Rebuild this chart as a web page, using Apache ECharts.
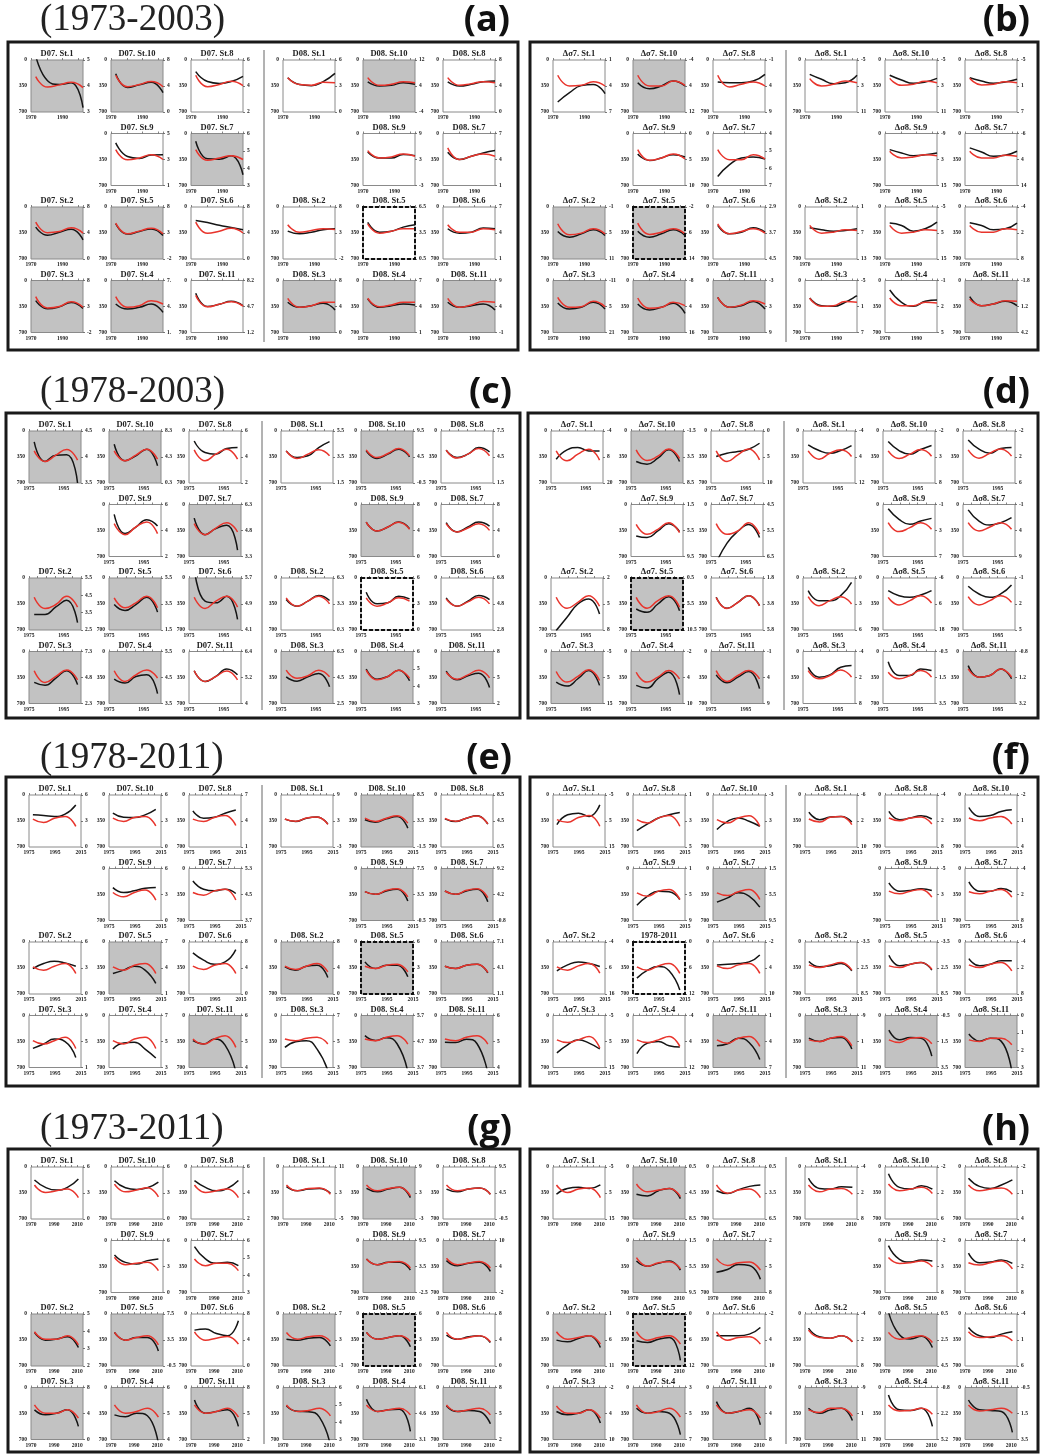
<!DOCTYPE html>
<html><head><meta charset="utf-8">
<script src="https://cdn.jsdelivr.net/npm/echarts@6/dist/echarts.min.js"></script>
<style>html,body{margin:0;padding:0;background:#fff}#c{width:1041px;height:1455px}</style>
</head><body><div id="c"></div><script>
// ---------- DATA ----------
// curve sample years per period (5 samples from start to end of the fitted curve)
const yrs_7303 = [1973, 1980.5, 1988, 1995.5, 2003];
const yrs_7803 = [1978, 1984.25, 1990.5, 1996.75, 2003];
const yrs_7811 = [1978, 1986.25, 1994.5, 2002.75, 2011];
const yrs_7311 = [1973, 1982.5, 1992, 2001.5, 2011];
const xt_7303 = [1970, 1990];
const xt_7803 = [1975, 1995];
const xt_7811 = [1975, 1995, 2015];
const xt_7311 = [1970, 1990, 2010];
const leftTicks = [0, 350, 700];
const periods = ['(1973-2003)', '(1978-2003)', '(1978-2011)', '(1973-2011)'];
const letters = ['(a)', '(b)', '(c)', '(d)', '(e)', '(f)', '(g)', '(h)'];
// station order in each half (St.1, St.10, St.8 / St.9, St.7 / St.2, St.5, St.6 / St.3, St.4, St.11)
const stations = ['1', '10', '8', '9', '7', '2', '5', '6', '3', '4', '11'];
const stations_f = ['1', '8', '10', '9', '7', '2', '5', '6', '3', '4', '11'];
const f_special = '1978-2011';
// values on the left (inverted 0-700) scale; first 11 = left half, next 11 = right half
const a_black = [[-60,280,330,305,642],[184,370,335,300,440],[157,290,315,290,220],[126,310,335,290,285],[104,340,345,300,555],[271,380,340,300,442],[226,365,330,295,385],[181,210,245,275,307],[271,380,355,295,375],[316,384,361,316,429],[171,350,320,280,340],
 [238,330,345,290,180],[296,350,341,305,327],[296,350,327,292,283],[248,330,330,283,298],[253,350,307,262,230],[325,361,339,307,293],[208,339,325,271,239],[293,352,339,284,293],[293,361,339,307,397],[248,361,339,316,329],[293,361,339,316,397]];
const a_red = [[224,365,335,300,372],[206,360,330,290,360],[206,360,330,285,345],[217,355,330,285,350],[217,360,330,300,350],[203,345,330,280,352],[217,360,325,285,360],[203,355,325,285,350],[217,370,350,285,360],[217,361,339,271,316],[200,355,320,285,345],
 [238,330,340,300,305],[238,341,327,292,305],[238,341,319,292,305],[230,330,316,275,307],[194,350,307,275,307],[239,339,316,293,303],[226,352,325,293,293],[239,339,339,293,307],[239,361,339,293,293],[239,352,329,293,293],[239,361,329,284,293]];
const a_right = [['5','4','3'],['8','4','0'],['6','4','2'],['5','3','1'],['6','5','4','3'],['8','4','0'],['8','3','-2'],['8','4','0'],['8','3','-2'],['7.','4.','1.'],['8.2','4.7','1.2'],
 ['6','3','0'],['12','4','-4'],['8','4','0'],['9','3','-3'],['7','4','1'],['8','3','-2'],['6.5','3.5','0.5'],['7','4','1'],['8','4','0'],['7','4','1'],['9','4','-1']];
const a_gray = [1,1,0,0,1,1,1,0,1,1,0, 0,1,0,0,0,0,0,0,1,1,1];

const b_black = [[565,440,345,330,453],[305,386,350,283,350],[296,305,305,283,193],[275,365,330,285,316],[578,420,330,316,343],[330,406,361,307,384],[325,406,361,307,384],[248,361,339,280,339],[302,384,361,293,384],[316,397,361,307,442],[226,361,339,284,384],
 [193,260,319,305,206],[206,269,314,296,247],[238,283,314,296,260],[217,262,298,285,262],[194,248,307,293,239],[280,307,325,316,293],[217,248,325,293,203],[212,248,307,293,217],[235,339,348,293,203],[126,293,348,280,262],[217,339,316,280,339]];
const b_red = [[206,350,341,292,350],[206,350,350,283,341],[206,363,327,296,350],[217,361,330,275,343],[217,352,352,285,343],[226,375,352,293,361],[217,370,339,293,361],[226,361,330,293,352],[226,361,352,280,352],[235,375,361,293,339],[226,361,330,271,316],
 [251,350,327,283,305],[247,341,327,287,305],[247,337,327,292,305],[239,330,316,285,298],[239,330,330,293,307],[248,352,339,307,316],[248,352,339,307,316],[248,339,339,293,307],[239,348,339,284,293],[235,339,339,293,302],[248,339,316,271,280]];
const b_right = [['1','4','7'],['-4','4','12'],['-1','4','9'],['0','5','10'],['4','5','6','7'],['-1','5','11'],['-2','6','14'],['2.9','3.7','4.5'],['-11','5','21'],['-8','4','16'],['-3','3','9'],
 ['-5','3','11'],['-5','3','11'],['-5','1','7'],['-9','3','15'],['-6','4','14'],['1','7','13'],['-5','5','15'],['-4','2','8'],['-5','1','7'],['-1','2','5'],['-1.8','1.2','4.2']];
const b_gray = [0,1,0,0,0,1,1,0,1,1,1, 0,0,0,0,0,0,0,0,0,0,1];

const c_black = [[147,410,325,320,700],[178,401,334,245,468],[134,290,312,236,223],[134,392,303,205,290],[183,406,325,281,615],[490,490,390,300,602],[357,437,357,259,459],[-150,312,334,245,557],[416,455,357,259,446],[372,425,336,314,568],[259,403,336,235,314],
 [267,357,334,223,143],[267,370,312,245,348],[258,357,312,223,281],[236,357,303,236,325],[245,370,303,236,290],[290,379,312,236,303],[192,348,334,245,281],[267,379,312,236,290],[341,399,341,296,474],[238,372,336,251,394],[263,381,327,292,485]];
const c_red = [[267,410,325,250,392],[267,401,325,245,379],[254,401,312,245,379],[258,406,303,236,392],[258,406,317,245,370],[259,410,357,245,392],[267,401,334,245,401],[259,410,312,245,392],[259,416,336,249,381],[259,403,314,249,359],[259,403,336,263,381],
 [267,370,312,254,334],[254,357,303,236,334],[258,365,312,236,334],[236,357,303,240,335],[258,370,317,258,348],[267,379,312,245,348],[267,379,334,267,312],[281,379,321,259,348],[251,359,327,251,341],[251,381,336,251,359],[280,372,314,251,354]];
const c_right = [['4.5','4','3.5'],['8.3','4.3','0.3'],['6','4','2'],['6','4','2'],['6.3','4.8','3.3'],['5.5','4.5','3.5','2.5'],['5.5','3.5','1.5'],['5.7','4.9','4.1'],['7.3','4.8','2.3'],['5.5','4.5','3.5'],['6.4','5.2','4'],
 ['5.5','3.5','1.5'],['9.5','4.5','-0.5'],['7.5','4.5','1.5'],['8','4','0'],['8','4','0'],['6.3','3.3','0.3'],['6','3','0'],['6.8','4.8','2.8'],['6.5','4.5','2.5'],['6','5','4','3'],['8','5','2']];
const c_gray = [1,1,0,0,1,1,1,1,1,1,0, 0,1,0,1,0,0,0,0,1,1,1];

const d_black = [[381,254,223,268,268],[410,446,366,254,410],[343,299,277,245,165],[423,445,356,258,365],[790,520,360,270,445],[708,529,350,283,485],[417,462,350,251,440],[260,408,328,238,372],[412,465,367,257,456],[456,492,367,279,580],[314,421,345,270,500],
 [187,263,299,263,196],[143,263,312,250,196],[121,245,299,236,223],[58,200,267,223,187],[72,223,276,245,178],[170,305,305,238,58],[170,238,260,229,170],[112,215,260,215,94],[213,345,314,213,190],[137,323,323,235,257],[190,345,323,235,367]];
const d_red = [[268,401,312,245,392],[254,397,339,241,370],[268,410,321,241,388],[267,401,334,245,379],[258,401,356,245,401],[260,408,328,238,381],[260,408,305,238,395],[262,410,330,240,375],[270,412,336,244,390],[279,412,345,257,368],[257,403,323,257,368],
 [268,379,299,254,343],[268,370,312,250,339],[254,366,299,241,339],[245,365,312,245,334],[245,356,303,245,334],[251,372,305,251,350],[260,363,305,238,337],[251,363,305,238,328],[257,367,323,248,345],[279,367,323,257,345],[235,345,323,235,345]];
const d_right = [['-4','8','20'],['-1.5','3.5','8.5'],['0','5','10'],['1.5','5.5','9.5'],['4.5','5.5','6.5'],['2','5','8'],['0.5','5.5','10.5'],['1.8','3.8','5.8'],['-5','5','15'],['-2','4','10'],['-1','4','9'],
 ['-4','4','12'],['-2','3','8'],['-2','2','6'],['-1','3','7'],['-1','4','9'],['0','3','6'],['-6','6','18'],['-1','2','5'],['-4','2','8'],['-0.5','1.5','3.5'],['-0.8','1.2','3.2']];
const d_gray = [0,1,0,0,0,0,1,0,1,1,1, 0,0,0,0,0,0,0,0,0,0,1];

const e_black = [[267,276,290,258,134],[245,299,303,267,192],[214,312,299,245,201],[257,323,301,266,257],[168,279,301,279,337],[357,290,259,281,326],[424,379,326,379,557],[147,245,299,268,103],[443,384,316,352,564],[452,370,361,452,573],[339,384,316,400,760],
 [325,357,312,295,392],[334,366,321,290,446],[321,357,312,281,392],[312,348,303,281,437],[303,348,303,281,446],[335,379,326,312,477],[268,357,312,312,468],[326,357,312,299,415],[429,352,339,452,740],[271,335,300,380,760],[361,365,320,380,780]];
const e_red = [[325,370,312,290,423],[312,357,303,290,415],[325,357,303,276,410],[323,381,323,288,425],[323,359,301,279,425],[335,379,326,290,424],[335,379,312,290,424],[326,370,312,290,424],[339,384,339,293,443],[339,384,316,293,443],[316,384,316,271,429],
 [323,355,310,295,395],[312,357,312,281,379],[315,355,312,283,390],[312,348,294,272,383],[303,348,294,272,392],[326,370,326,290,401],[326,357,312,299,401],[326,357,312,299,410],[316,339,307,293,384],[316,339,293,271,384],[316,339,293,271,384]];
const e_right = [['6','3','0'],['6','3','0'],['7','4','1'],['6','3','0'],['5.3','4.5','3.7'],['6','3','0'],['7','4','1'],['8','4','0'],['9','5','1'],['7','5','3'],['6','5','4'],
 ['9','3','-3'],['8.5','3.5','-1.5'],['8.5','4.5','0.5'],['7.5','3.5','-0.5'],['9.2','4.2','-0.8'],['8','4','0'],['6','3','0'],['7.1','4.1','1.1'],['7','5','3'],['5.7','4.7','3.7'],['6','5','4']];
const e_gray = [0,0,0,0,0,0,1,0,0,0,1, 0,1,0,1,1,1,1,1,0,1,1];

const f_black = [[399,266,244,288,133],[479,390,310,266,235],[465,354,310,354,421],[494,372,305,314,417],[453,395,328,372,521],[388,308,268,290,330],[486,379,330,388,647],[308,299,290,268,174],[503,394,328,372,451],[512,372,350,407,424],[407,381,306,363,591],
 [230,332,297,288,363],[222,332,310,279,323],[168,288,275,222,199],[193,305,296,274,296],[179,305,305,269,314],[263,334,321,290,388],[178,321,299,276,379],[223,321,299,254,254],[306,350,306,297,451],[197,328,297,306,547],[249,345,306,345,760]];
const f_red = [[332,368,302,275,421],[332,377,310,275,421],[332,377,310,279,421],[328,372,305,283,417],[328,363,314,283,417],[334,379,321,290,419],[334,379,321,290,423],[321,357,308,290,423],[328,363,328,284,438],[328,363,328,284,416],[328,372,306,284,416],
 [323,363,301,288,399],[310,346,310,297,390],[310,346,310,288,390],[305,341,305,283,386],[314,341,305,283,386],[308,343,308,276,379],[321,343,299,276,366],[308,343,299,276,388],[328,350,306,284,407],[328,363,306,297,381],[328,350,306,306,394]];
const f_right = [['-5','5','15'],['1','3','5'],['-3','3','9'],['1','5','9'],['1.5','5.5','9.5'],['-4','6','16'],['0','6','12'],['-2','4','10'],['-5','5','15'],['-4','4','12'],['1','4','7'],
 ['-6','2','10'],['-4','2','8'],['-2','1','4'],['-5','3','11'],['-4','2','8'],['-3.5','2.5','8.5'],['-3.5','2.5','8.5'],['-4','2','8'],['-9','1','11'],['-0.5','1.5','3.5'],['0','1','2','3']];
const f_gray = [0,0,0,0,1,0,0,0,0,0,1, 0,0,0,0,0,0,0,0,1,1,1];

const g_black = [[174,274,311,274,160],[186,280,303,280,203],[183,274,320,288,183],[194,294,316,271,248],[81,248,307,294,339],[248,352,339,307,452],[248,352,316,316,497],[217,203,262,293,90],[301,368,346,301,523],[368,395,345,380,760],[168,346,324,301,523],
 [265,320,297,288,352],[288,334,297,274,412],[297,334,297,283,366],[248,325,294,294,397],[271,339,307,294,415],[339,352,325,316,429],[248,339,316,293,442],[284,339,307,293,384],[248,320,325,400,780],[159,324,301,292,590],[248,324,310,324,488]];
const g_red = [[242,343,320,297,412],[231,334,311,280,401],[242,343,320,297,412],[226,325,307,294,406],[248,339,307,307,406],[239,339,339,293,415],[248,352,316,293,415],[239,352,325,303,406],[235,346,346,301,412],[235,346,324,279,399],[235,346,324,279,399],
 [242,320,288,283,366],[242,320,288,274,389],[242,320,297,283,366],[248,325,294,284,370],[239,325,302,284,370],[248,339,307,293,370],[248,339,316,293,370],[248,339,316,293,375],[235,324,310,279,382],[235,324,301,279,368],[235,324,301,279,368]];
const g_right = [['6','3','0'],['6','3','0'],['6','4','2'],['6','3','0'],['6','5','4','3'],['5','4','3','2'],['7.5','3.5','-0.5'],['8','4','0'],['8','4','0'],['6','5','4'],['8','5','2'],
 ['11','3','-5'],['9','3','-3'],['9.5','4.5','-0.5'],['9.5','3.5','-2.5'],['10','4','-2'],['7','3','-1'],['6','3','0'],['8','4','0'],['6','5','4','3'],['6.1','4.6','3.1'],['8','5','2']];
const g_gray = [0,0,0,0,0,1,1,0,1,1,1, 0,1,0,1,1,1,1,0,1,1,1];

const h_black = [[366,288,274,288,242],[366,389,320,288,425],[320,357,306,261,242],[276,345,308,276,400],[428,391,322,336,520],[352,375,330,293,452],[361,384,339,316,623],[293,293,293,271,181],[323,368,346,301,478],[279,346,324,346,634],[190,346,324,279,501],
 [151,288,297,265,274],[92,274,297,251,297],[151,261,288,242,174],[69,253,290,262,276],[170,299,290,262,308],[190,307,325,293,375],[-30,280,335,300,452],[181,293,316,271,239],[279,346,301,279,443],[102,301,310,279,523],[168,301,310,324,605]];
const h_red = [[242,343,297,283,412],[229,334,311,288,398],[242,352,311,297,412],[230,345,299,285,382],[244,336,299,290,400],[239,339,316,293,406],[239,352,316,293,406],[239,352,316,307,406],[248,346,346,301,412],[235,346,324,279,399],[235,346,324,301,412],
 [242,334,297,288,366],[229,320,297,274,357],[242,320,297,283,366],[230,308,299,276,354],[299,331,299,276,382],[217,316,325,293,375],[248,339,316,293,384],[239,316,307,293,361],[301,337,279,279,382],[235,315,310,279,360],[235,315,301,279,346]];
const h_right = [['-5','5','15'],['0.5','4.5','8.5'],['0.5','3.5','6.5'],['1.5','5.5','9.5'],['2','5','8'],['1','6','11'],['0','6','12'],['-2','4','10'],['-2','4','10'],['3','5','7'],['0','4','8'],
 ['-4','2','8'],['-2','2','6'],['-2','1','4'],['-2','3','8'],['-4','2','8'],['-4','2','8'],['0.5','2.5','4.5'],['-4','1','6'],['-9','1','11'],['-0.8','2.2','5.2'],['-0.5','1.5','3.5']];
const h_gray = [0,1,0,1,1,1,1,0,1,1,1, 0,0,0,0,0,0,1,0,1,0,1];

// ---------- LAYOUT / STYLE ----------
const CELLS = [[0,0],[0,1],[0,2],[1,1],[1,2],[2,0],[2,1],[2,2],[3,0],[3,1],[3,2]];
const AX_7303 = {min:1970, max:2003, step:10};
const AX_7803 = {min:1975, max:2005, step:5};
const AX_7811 = {min:1975, max:2015, step:5};
const AX_7311 = {min:1970, max:2015, step:5};
const PANELS = [
  {box:[8,42,518,350],   yrs:yrs_7303, xt:xt_7303, ax:AX_7303, pre:['D07. St.','D08. St.'], st:stations, black:a_black, red:a_red, right:a_right, gray:a_gray, dashed:17},
  {box:[530,42,1038,350],yrs:yrs_7303, xt:xt_7303, ax:AX_7303, pre:['Δσ7. St.','Δσ8. St.'], st:stations, black:b_black, red:b_red, right:b_right, gray:b_gray, dashed:6},
  {box:[6,413,520,718],  yrs:yrs_7803, xt:xt_7803, ax:AX_7803, pre:['D07. St.','D08. St.'], st:stations, black:c_black, red:c_red, right:c_right, gray:c_gray, dashed:17},
  {box:[528,413,1038,718],yrs:yrs_7803, xt:xt_7803, ax:AX_7803, pre:['Δσ7. St.','Δσ8. St.'], st:stations, black:d_black, red:d_red, right:d_right, gray:d_gray, dashed:6},
  {box:[6,777,520,1086], yrs:yrs_7811, xt:xt_7811, ax:AX_7811, pre:['D07. St.','D08. St.'], st:stations, black:e_black, red:e_red, right:e_right, gray:e_gray, dashed:17},
  {box:[530,777,1038,1086],yrs:yrs_7811, xt:xt_7811, ax:AX_7811, pre:['Δσ7. St.','Δσ8. St.'], st:stations_f, black:f_black, red:f_red, right:f_right, gray:f_gray, dashed:6, special:f_special},
  {box:[8,1149,520,1452],yrs:yrs_7311, xt:xt_7311, ax:AX_7311, pre:['D07. St.','D08. St.'], st:stations, black:g_black, red:g_red, right:g_right, gray:g_gray, dashed:17},
  {box:[530,1149,1038,1452],yrs:yrs_7311, xt:xt_7311, ax:AX_7311, pre:['Δσ7. St.','Δσ8. St.'], st:stations, black:h_black, red:h_red, right:h_right, gray:h_gray, dashed:6}
];
const HEAD_Y = [20, 392, 758, 1129];
const TICK_FONT = {fontSize:5.5, fontFamily:'Liberation Serif', fontWeight:'bold', color:'#222'};

const grids=[], xAxes=[], yAxes=[], series=[], graphics=[];
PANELS.forEach((p, pi) => {
  const [L,T,R,B] = p.box;
  const row = Math.floor(pi/2);
  if (pi % 2 === 0) {
    graphics.push({type:'text', x:40, y:HEAD_Y[row], style:{text:periods[row], font:'37px "Liberation Serif"', fill:'#222', textVerticalAlign:'middle'}});
  }
  graphics.push({type:'text', x:R-8, y:HEAD_Y[row]+1, style:{text:letters[pi], font:'bold 36px "Open Sans"', fill:'#111', textAlign:'right', textVerticalAlign:'middle'}});
  graphics.push({type:'rect', shape:{x:L,y:T,width:R-L,height:B-T}, style:{fill:'none', stroke:'#1a1a1a', lineWidth:3}, z:20});
  graphics.push({type:'line', shape:{x1:L+256,y1:T+8,x2:L+256,y2:B-8}, style:{stroke:'#666', lineWidth:1}, z:20});
  for (let h=0; h<2; h++) for (let k=0; k<11; k++) {
    const idx = h*11+k, [r,c] = CELLS[k];
    const gx = L+23+c*80+h*252, gy = T+18+r*73.5;
    const gi = grids.length;
    grids.push({left:gx, top:gy, width:52, height:52, show:true,
      backgroundColor: p.gray[idx] ? '#c2c2c2' : '#ffffff', borderColor:'#8a8a8a', borderWidth:1});
    const xt = p.xt;
    xAxes.push({gridIndex:gi, type:'value', min:p.ax.min, max:p.ax.max, interval:p.ax.step,
      axisLine:{show:false}, splitLine:{show:false},
      axisTick:{show:true, inside:true, length:2, lineStyle:{color:'#666', width:0.8}},
      axisLabel:Object.assign({margin:3, showMaxLabel:true, formatter:v => xt.includes(v) ? String(v) : ''}, TICK_FONT)});
    yAxes.push({gridIndex:gi, type:'value', min:0, max:700, interval:350, inverse:true, position:'left',
      axisLine:{show:false}, splitLine:{show:false}, axisTick:{show:false},
      axisLabel:Object.assign({margin:4, formatter:v => leftTicks.includes(v) ? String(v) : ''}, TICK_FONT)});
    const labs = p.right[idx];
    yAxes.push({gridIndex:gi, type:'value', min:0, max:labs.length-1, interval:1, inverse:true, position:'right',
      axisLine:{show:false}, splitLine:{show:false},
      axisTick:{show:true, length:2, lineStyle:{color:'#555', width:0.8}},
      axisLabel:Object.assign({margin:4, formatter:v => labs[Math.round(v)] || ''}, TICK_FONT)});
    const mk = (vals, color) => ({type:'line', xAxisIndex:gi, yAxisIndex:2*gi, smooth:true, symbol:'none', clip:true, silent:true,
      data:p.yrs.map((y,i) => [y, vals[i]]), lineStyle:{color, width:1.5}});
    series.push(mk(p.black[idx], '#151515'));
    series.push(mk(p.red[idx], '#e8342c'));
    let ttl = p.pre[h] + p.st[k];
    if (p.special && h===0 && k===6) ttl = p.special;
    graphics.push({type:'text', x:gx+26, y:gy-1.5, style:{text:ttl, font:'bold 8.5px "Liberation Serif"', fill:'#222', textAlign:'center', textVerticalAlign:'bottom'}});
    if (idx === p.dashed) {
      graphics.push({type:'rect', shape:{x:gx, y:gy, width:52, height:52}, style:{fill:'none', stroke:'#111', lineWidth:2, lineDash:[4,2]}, z:30});
    }
  }
});

const chart = echarts.init(document.getElementById('c'), null, {renderer:'canvas', width:1041, height:1455});
chart.setOption({animation:false, backgroundColor:'#ffffff', grid:grids, xAxis:xAxes, yAxis:yAxes, series:series, graphic:graphics});
</script></body></html>
